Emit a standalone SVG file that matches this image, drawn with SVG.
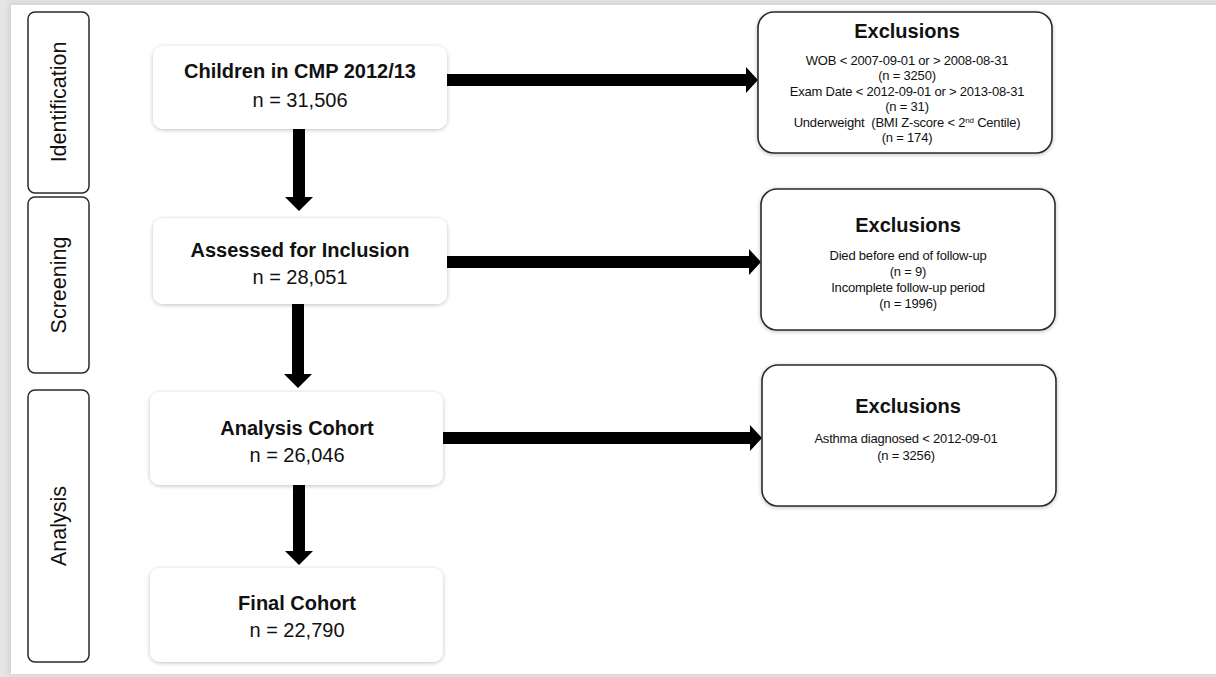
<svg xmlns="http://www.w3.org/2000/svg" width="1216" height="677" viewBox="0 0 1216 677">
<style>
.phase{fill:#fff;stroke:#2a2a2a;stroke-width:1.5}
.main{fill:#fff}
.excl{fill:#fff;stroke:#2a2a2a;stroke-width:1.6}
.t{font-family:"Liberation Sans",Arial,sans-serif;fill:#111;text-anchor:middle}
.ph{font-size:21.5px}
.title{font-size:20px;font-weight:bold}
.n{font-size:20px}
.eh{font-size:20px;font-weight:bold}
.el{font-size:13px;letter-spacing:-0.2px}
.arrow{fill:#000}
</style>
<defs>
<filter id="sh" x="-10%" y="-20%" width="120%" height="140%">
<feGaussianBlur in="SourceAlpha" stdDeviation="2"/>
<feOffset dx="0" dy="1" result="b"/>
<feComponentTransfer><feFuncA type="linear" slope="0.25"/></feComponentTransfer>
<feMerge><feMergeNode/><feMergeNode in="SourceGraphic"/></feMerge>
</filter>
<filter id="pb" x="-5%" y="-5%" width="110%" height="110%">
<feGaussianBlur stdDeviation="3"/>
</filter>
</defs>
<rect x="0" y="0" width="1216" height="677" fill="#e6e6e6"/>
<rect x="9" y="3" width="1210" height="672" fill="#cfcfcf" filter="url(#pb)"/>
<rect x="11" y="5" width="1205" height="669" fill="#fff"/>

<g id="phase-identification">
<rect class="phase" x="28" y="12" width="61" height="181" rx="7"/>
<text class="t ph" transform="translate(66,102) rotate(-90)">Identification</text>
</g>
<g id="phase-screening">
<rect class="phase" x="28" y="197" width="61" height="176" rx="7"/>
<text class="t ph" transform="translate(66,285) rotate(-90)">Screening</text>
</g>
<g id="phase-analysis">
<rect class="phase" x="28" y="390" width="61" height="272" rx="7"/>
<text class="t ph" transform="translate(66,526) rotate(-90)">Analysis</text>
</g>

<g id="connectors">
<polygon class="arrow" points="293,129 305,129 305,197 313,197 299,211 285,197 293,197"/>
<polygon class="arrow" points="292,303 304,303 304,374 312,374 298,388 284,374 292,374"/>
<polygon class="arrow" points="293,485 305,485 305,551 313,551 299,565 285,551 293,551"/>
<polygon class="arrow" points="447,74 746,74 746,67 758,80 746,93 746,86 447,86"/>
<polygon class="arrow" points="447,256 749,256 749,249 761,262 749,275 749,268 447,268"/>
<polygon class="arrow" points="443,432 750,432 750,425 762,438 750,451 750,444 443,444"/>
</g>

<g id="node-children">
<rect class="main" x="153" y="46" width="294" height="83" rx="10" filter="url(#sh)"/>
<text class="t title" x="300" y="78">Children in CMP 2012/13</text>
<text class="t n" x="300" y="107">n = 31,506</text>
</g>
<g id="node-assessed">
<rect class="main" x="153" y="218" width="294" height="86" rx="10" filter="url(#sh)"/>
<text class="t title" x="300" y="257">Assessed for Inclusion</text>
<text class="t n" x="300" y="284">n = 28,051</text>
</g>
<g id="node-analysis">
<rect class="main" x="150" y="392" width="293" height="93" rx="10" filter="url(#sh)"/>
<text class="t title" x="297" y="435">Analysis Cohort</text>
<text class="t n" x="297" y="462">n = 26,046</text>
</g>
<g id="node-final">
<rect class="main" x="150" y="568" width="293" height="94" rx="10" filter="url(#sh)"/>
<text class="t title" x="297" y="610">Final Cohort</text>
<text class="t n" x="297" y="637">n = 22,790</text>
</g>

<g id="node-excl1">
<rect class="excl" x="758" y="12" width="294" height="141" rx="16" filter="url(#sh)"/>
<text class="t eh" x="907" y="38">Exclusions</text>
<text class="t el" x="907" y="65">WOB &lt; 2007-09-01 or &gt; 2008-08-31</text>
<text class="t el" x="907" y="80">(n = 3250)</text>
<text class="t el" x="907" y="96">Exam Date &lt; 2012-09-01 or &gt; 2013-08-31</text>
<text class="t el" x="907" y="111">(n = 31)</text>
<text class="t el" x="907" y="127">Underweight&#160; (BMI Z-score &lt; 2<tspan font-size="8" dy="-4">nd</tspan><tspan dy="4"> Centile)</tspan></text>
<text class="t el" x="907" y="142">(n = 174)</text>
</g>
<g id="node-excl2">
<rect class="excl" x="761" y="189" width="294" height="141" rx="16" filter="url(#sh)"/>
<text class="t eh" x="908" y="232">Exclusions</text>
<text class="t el" x="908" y="260">Died before end of follow-up</text>
<text class="t el" x="908" y="276">(n = 9)</text>
<text class="t el" x="908" y="292">Incomplete follow-up period</text>
<text class="t el" x="908" y="308">(n = 1996)</text>
</g>
<g id="node-excl3">
<rect class="excl" x="762" y="365" width="294" height="141" rx="16" filter="url(#sh)"/>
<text class="t eh" x="908" y="413">Exclusions</text>
<text class="t el" x="906" y="443">Asthma diagnosed &lt; 2012-09-01</text>
<text class="t el" x="906" y="460">(n = 3256)</text>
</g>
</svg>
